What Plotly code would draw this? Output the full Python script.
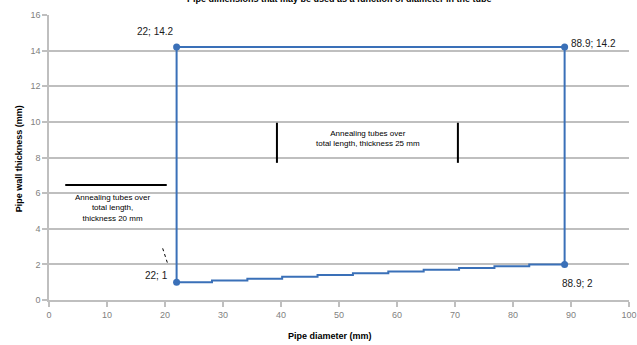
import plotly.graph_objects as go

# Frame of the allowed region
frame_x = [22, 22, 88.9, 88.9]
frame_y = [1, 14.2, 14.2, 2]

# Stepped lower boundary
step_x = [22, 28.1, 34.2, 40.2, 46.3, 52.4, 58.5, 64.6, 70.7, 76.8, 82.8, 88.9]
step_y = [1.0, 1.1, 1.2, 1.3, 1.4, 1.5, 1.6, 1.7, 1.8, 1.9, 2.0, 2.0]

corner_x = [22, 22, 88.9, 88.9]
corner_y = [14.2, 1, 14.2, 2]
corner_labels = ["22; 14.2", "22; 1", "88.9; 14.2", "88.9; 2"]

x_ticks = [0, 10, 20, 30, 40, 50, 60, 70, 80, 90, 100]
y_ticks = [0, 2, 4, 6, 8, 10, 12, 14, 16]

blue = "#3a70b8"
FONT = "Liberation Sans"

fig = go.Figure()
fig.add_trace(go.Scatter(x=frame_x, y=frame_y, mode="lines",
                         line=dict(color=blue, width=2), hoverinfo="skip"))
fig.add_trace(go.Scatter(x=step_x, y=step_y, mode="lines", line_shape="hv",
                         line=dict(color=blue, width=2), hoverinfo="skip"))
fig.add_trace(go.Scatter(x=corner_x, y=corner_y, mode="markers",
                         marker=dict(color=blue, size=7), hoverinfo="skip"))

# Corner labels
lab_pos = [(18.3, 15.1), (18.6, 1.4), (93.8, 14.4), (91.2, 0.9)]
for lab, (lx, ly) in zip(corner_labels, lab_pos):
    fig.add_annotation(x=lx, y=ly, text=lab, showarrow=False,
                       font=dict(size=10, color="#1a1a1a", family=FONT))

# Black range markers
fig.add_shape(type="line", x0=2.8, x1=20.3, y0=6.45, y1=6.45, line=dict(color="black", width=2))
fig.add_shape(type="line", x0=39.3, x1=39.3, y0=7.7, y1=9.95, line=dict(color="black", width=2))
fig.add_shape(type="line", x0=70.5, x1=70.5, y0=7.7, y1=9.95, line=dict(color="black", width=2))
fig.add_shape(type="line", x0=19.6, x1=20.4, y0=2.9, y1=2.1, line=dict(color="black", width=1, dash="dot"))

fig.add_annotation(x=11, y=5.17, text="Annealing tubes over<br>total length,<br>thickness 20 mm",
                   showarrow=False, font=dict(size=8, color="black", family=FONT))
fig.add_annotation(x=55, y=9.05, text="Annealing tubes over<br>total length, thickness 25 mm",
                   showarrow=False, font=dict(size=8, color="black", family=FONT))

# Title (partly cut off at top, as in the reference)
fig.add_annotation(x=0.5, xref="paper", y=1, yref="paper", yshift=16, yanchor="middle",
                   text="<b>Pipe dimensions that may be used as a function of diameter in the tube</b>",
                   showarrow=False, font=dict(size=9, color="black", family=FONT))

# Axis titles
fig.add_annotation(x=48.4, y=0, yref="paper", yshift=-36, yanchor="middle",
                   text="<b>Pipe diameter (mm)</b>", showarrow=False,
                   font=dict(size=9, color="black", family=FONT))
fig.add_annotation(x=0, xref="paper", xshift=-37, y=7.9, textangle=-90,
                   text="<b>Pipe wall thickness (mm)</b>", showarrow=False,
                   font=dict(size=9, color="black", family=FONT))

fig.update_layout(
    width=637, height=345,
    margin=dict(l=49, r=8, t=15, b=45),
    plot_bgcolor="white", paper_bgcolor="white",
    showlegend=False,
    font=dict(family=FONT, size=9, color="#7f7f7f"),
    xaxis=dict(range=[0, 100], tickvals=x_ticks, showgrid=False, zeroline=False,
               automargin=False,
               showline=True, linecolor="#bfbfbf", linewidth=1.5,
               ticks="outside", ticklen=5, tickcolor="#bfbfbf", tickwidth=1.5,
               tickfont=dict(size=9, color="#7f7f7f")),
    yaxis=dict(range=[0, 16], tickvals=y_ticks, showgrid=True, gridcolor="#bfbfbf",
               gridwidth=1.5, zeroline=False, automargin=False,
               showline=True, linecolor="#bfbfbf", linewidth=1.5,
               ticks="outside", ticklen=5, tickcolor="#bfbfbf", tickwidth=1.5,
               tickfont=dict(size=9, color="#7f7f7f")),
)

fig.write_html("out.html", config={"displayModeBar": False},
               post_script="document.body.style.margin='0';")
